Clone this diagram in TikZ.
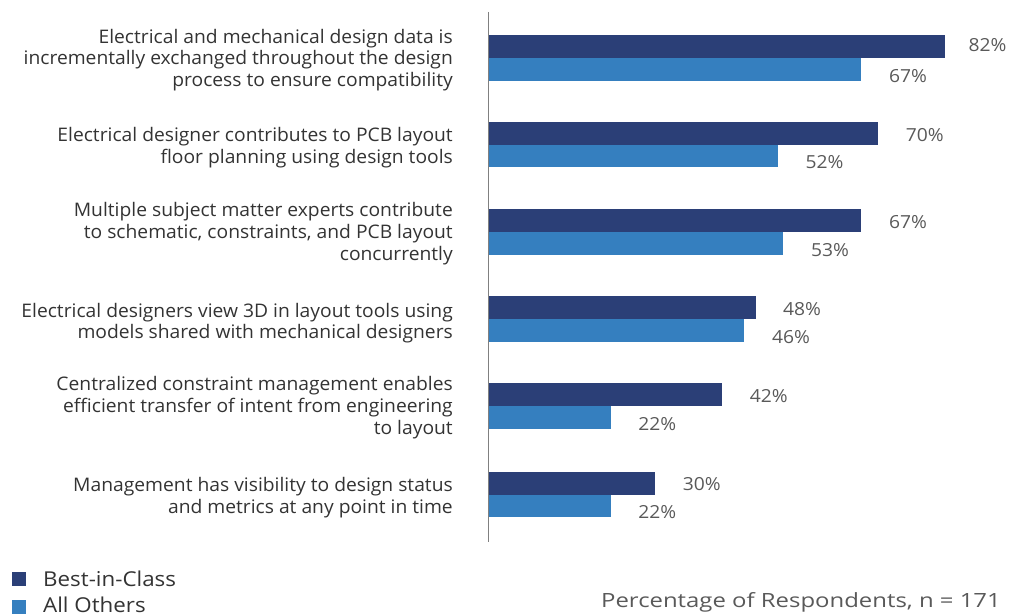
\documentclass[tikz,border=0pt]{standalone}
\usepackage{fontspec}
\setmainfont{Open Sans}
\newfontfamily\catfont{Open Sans}[FakeStretch=1.03]
\newfontfamily\valfont{Open Sans}[FakeStretch=1.07]
\newfontfamily\legfont{Open Sans}[FakeStretch=1.09]
\newfontfamily\axfont{Open Sans}[FakeStretch=1.22]
\definecolor{bic}{HTML}{2B3F77}
\definecolor{oth}{HTML}{357FBF}
\definecolor{lbl}{HTML}{333333}
\definecolor{val}{HTML}{595959}
\definecolor{axisc}{HTML}{808080}
\begin{document}
\begin{tikzpicture}[x=1pt,y=-1pt,
  catlabel/.style={anchor=base east,align=right,inner sep=0pt,text=lbl,font=\catfont\fontsize{18.7}{21.8}\selectfont},
  vallabel/.style={anchor=base west,inner sep=0pt,text=val,font=\valfont\fontsize{18}{21}\selectfont},
  bicbar/.style={fill=bic,draw=none},
  othbar/.style={fill=oth,draw=none},
  legtext/.style={anchor=base west,inner sep=0pt,text=lbl,font=\legfont\fontsize{20.5}{24}\selectfont}]
\useasboundingbox (0,0) rectangle (1021,615);
\def\xo{488}
\def\sc{5.573}
% bars: index / y_b / best / others / best-label baseline offset / best-label gap
\foreach \i/\yb/\b/\o/\db/\g in {1/58.5/82/67/-7/23.5,2/145/70/52/-3.5/27.5,3/232/67/53/-3/27.5,4/319/48/46/-3.5/27.5,5/406/42/22/-3.7/27.5,6/494.5/30/22/-4/27.5}{
  \path[bicbar] (\xo,\yb-23) rectangle (\xo+\b*\sc,\yb);
  \path[othbar] (\xo,\yb) rectangle (\xo+\o*\sc,\yb+22.5);
  \node[vallabel] (vb\i) at (\xo+\b*\sc+\g,\yb+\db) {\b\%};
  \node[vallabel] (vo\i) at (\xo+\o*\sc+27.5,\yb+24) {\o\%};
}
\node[catlabel] (c1) at (453,58.5+28.2) {Electrical and mechanical design data is\\incrementally exchanged throughout the design\\process to ensure compatibility};
\node[catlabel] (c2) at (453,145+18.5) {Electrical designer contributes to PCB layout\\floor planning using design tools};
\node[catlabel] (c3) at (453,232+28.3) {Multiple subject matter experts contribute\\to schematic, constraints, and PCB layout\\concurrently};
\node[catlabel] (c4) at (453,319+19.8) {Electrical designers view 3D in layout tools using\\models shared with mechanical designers};
\node[catlabel] (c5) at (453,406+28.3) {Centralized constraint management enables\\efficient transfer of intent from engineering\\to layout};
\node[catlabel] (c6) at (453,494.5+19) {Management has visibility to design status\\and metrics at any point in time};
\draw[axisc,line width=1pt] (\xo,12) -- (\xo,542);
% legend
\path[bicbar] (12,571.5) rectangle (26,585.5);
\path[othbar] (12,599.5) rectangle (26,613.5);
\node[legtext] (l1) at (43,586.5) {Best-in-Class};
\node[legtext] (l2) at (43,612.5) {All Others};
\node[anchor=base east,inner sep=0pt,text=val,font=\axfont\fontsize{19.6}{24}\selectfont] (xt) at (1001,607.5) {Percentage of Respondents, n = 171};
\end{tikzpicture}
\end{document}
